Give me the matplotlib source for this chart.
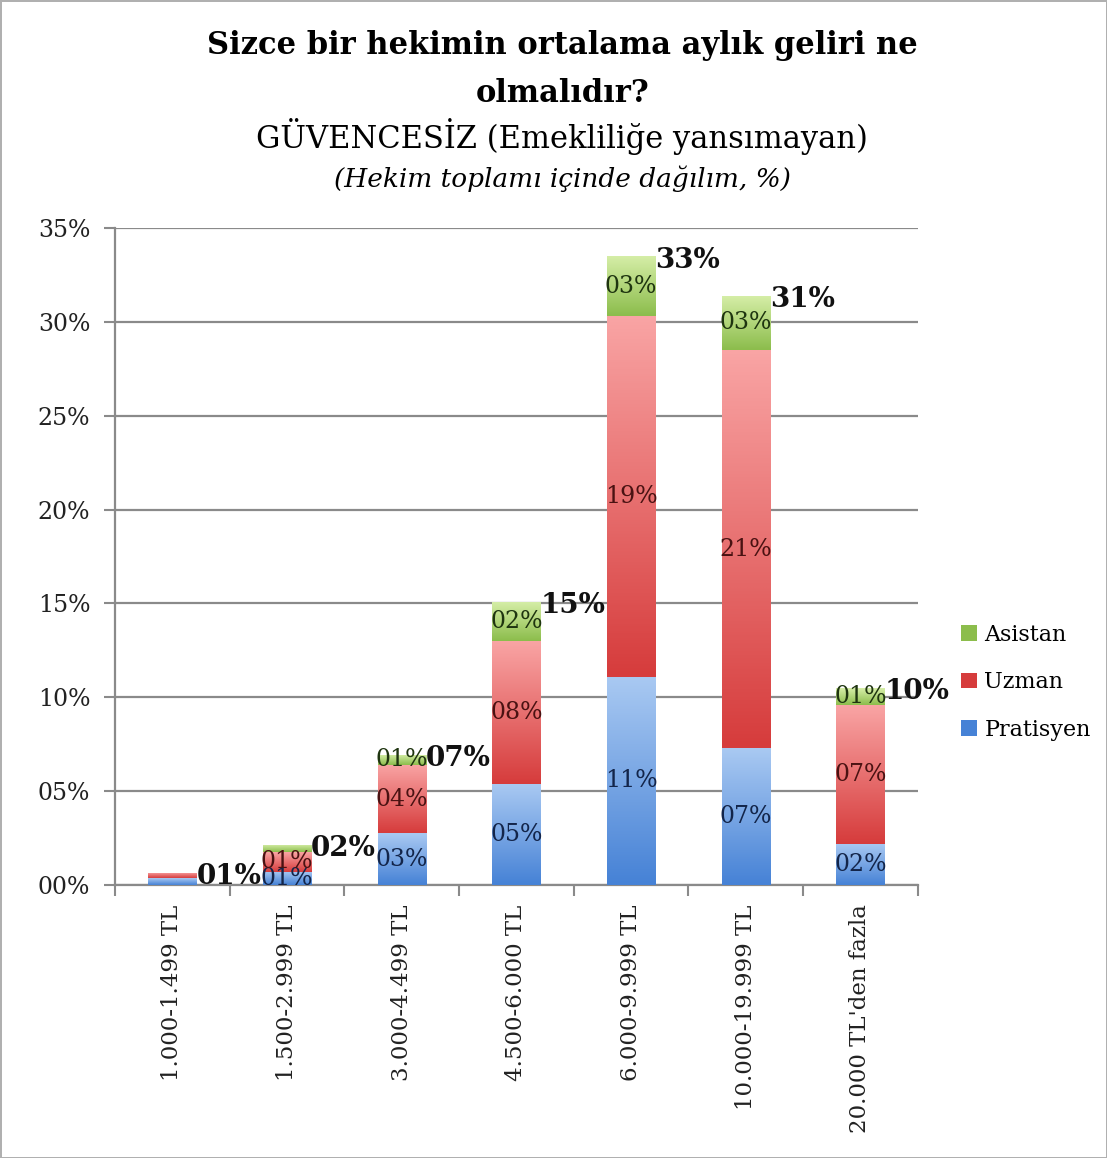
import numpy as np
import matplotlib.pyplot as plt
from matplotlib.colors import LinearSegmentedColormap
from matplotlib.patches import Patch

plt.rcParams['font.family'] = ['DejaVu Serif']

categories = ["1.000-1.499 TL", "1.500-2.999 TL", "3.000-4.499 TL", "4.500-6.000 TL",
              "6.000-9.999 TL", "10.000-19.999 TL", "20.000 TL'den fazla"]
pratisyen = [0.35, 0.70, 2.75, 5.40, 11.10, 7.30, 2.20]
uzman = [0.30, 1.05, 3.65, 7.60, 19.20, 21.20, 7.40]
asistan = [0.00, 0.40, 0.55, 2.10, 3.20, 2.90, 0.90]
totals = [1, 2, 7, 15, 33, 31, 10]
seg_labels = {
    "Pratisyen": [None, 1, 3, 5, 11, 7, 2],
    "Uzman": [None, 1, 4, 8, 19, 21, 7],
    "Asistan": [None, None, 1, 2, 3, 3, 1],
}
yticks = [0, 5, 10, 15, 20, 25, 30, 35]

series = [
    ("Pratisyen", pratisyen, "#a9c9f2", "#4682d6", "#13254a"),
    ("Uzman", uzman, "#f9a4a4", "#d63c3c", "#4a1212"),
    ("Asistan", asistan, "#d6eea8", "#8cbd4c", "#1f3510"),
]

fig = plt.figure(figsize=(11.07, 11.58), dpi=100)
fig.patch.set_edgecolor("#b0b0b0")
fig.patch.set_linewidth(2)
ax = fig.add_axes([0.104, 0.2358, 0.725, 0.5672])

x = np.arange(len(categories))
width = 0.42
bottom = np.zeros(len(categories))
grad = np.linspace(0, 1, 100).reshape(-1, 1)

for name, vals, c_top, c_bot, c_txt in series:
    vals = np.array(vals)
    cmap = LinearSegmentedColormap.from_list(name, [c_bot, c_top])
    bars = ax.bar(x, vals, width, bottom=bottom, color="none", edgecolor="none", zorder=3)
    for b in bars:
        if b.get_height() <= 0:
            continue
        x0, y0 = b.get_x(), b.get_y()
        x1, y1 = x0 + b.get_width(), y0 + b.get_height()
        im = ax.imshow(grad, extent=[x0, x1, y0, y1], origin="lower", cmap=cmap,
                       aspect="auto", zorder=3, interpolation="bilinear")
        im.set_clip_path(b)
    for i, lab in enumerate(seg_labels[name]):
        if lab is None:
            continue
        ax.text(x[i], bottom[i] + vals[i] / 2, f"{lab:02d}%", ha="center", va="center",
                fontsize=17, color=c_txt, zorder=5)
    bottom = bottom + vals

for i, t in enumerate(totals):
    ax.text(x[i] + width / 2, bottom[i] - 0.2, f"{t:02d}%", ha="left", va="center",
            fontsize=20, fontweight="bold", color="#111111", zorder=6)

ax.set_xlim(-0.5, 6.5)
ax.set_ylim(0, 35)
ax.set_yticks(yticks)
ax.set_yticklabels([f"{v:02d}%" for v in yticks], fontsize=17, color="#222222")
ax.yaxis.grid(True, color="#8a8a8a", linewidth=1.6, zorder=0)
ax.set_axisbelow(True)
ax.set_xticks(x)
ax.set_xticklabels(categories, rotation=90, fontsize=16.5, color="#222222")
ax.tick_params(axis="x", length=0, pad=14)
ax.set_xticks(np.arange(-0.5, 7, 1), minor=True)
ax.tick_params(axis="x", which="minor", length=8, width=1.5, color="#8a8a8a", direction="out")
ax.tick_params(axis="y", length=8, width=1.5, color="#8a8a8a", direction="out", pad=10)
for s in ["top", "right"]:
    ax.spines[s].set_visible(False)
for s in ["left", "bottom"]:
    ax.spines[s].set_color("#8a8a8a")
    ax.spines[s].set_linewidth(1.6)

handles = [Patch(facecolor=s[3], edgecolor="none", label=s[0]) for s in reversed(series)]
fig.legend(handles=handles, loc="center left", bbox_to_anchor=(0.85, 0.411), frameon=False,
           fontsize=16, handlelength=0.7, handleheight=0.7, handletextpad=0.35, labelspacing=1.15)

fig.text(0.508, 0.961, "Sizce bir hekimin ortalama aylık geliri ne", ha="center", va="center",
         fontsize=22, fontweight="bold")
fig.text(0.508, 0.919, "olmalıdır?", ha="center", va="center", fontsize=22, fontweight="bold")
fig.text(0.508, 0.882, "GÜVENCESİZ (Emekliliğe yansımayan)", ha="center", va="center", fontsize=22)
fig.text(0.508, 0.846, "(Hekim toplamı içinde dağılım, %)", ha="center", va="center",
         fontsize=19, style="italic")

fig.savefig("out.png", dpi=100, edgecolor=fig.get_edgecolor())
